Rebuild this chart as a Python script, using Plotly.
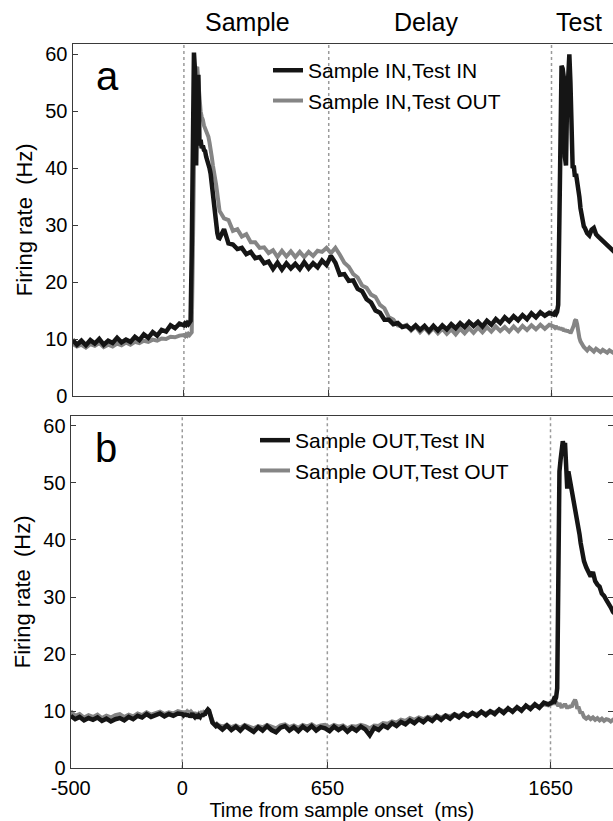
import plotly.graph_objects as go

# ---------------- data ----------------
# time grid (ms from sample onset): coarse in flat stretches, fine around the responses
TIME = (list(range(-500, 0, 20)) + list(range(0, 160, 5)) + list(range(160, 1660, 20))
        + list(range(1660, 1800, 5)) + list(range(1800, 1950, 10)))

# Panel a
A_IN_IN = [
    # -500 .. -20
    9.9, 9.0, 9.7, 8.9, 9.8, 9.2, 10.0, 9.0, 9.7, 9.3, 10.2, 9.4, 9.9, 9.5, 10.4, 9.8, 10.8, 10.2, 11.2, 10.6,
    11.6, 11.3, 12.4, 11.9, 12.7,
    # 0 .. 155
    12.4, 12.7, 12.5, 12.8, 12.6, 12.9, 13.2, 25.0, 52.0, 60.3, 57.0, 40.5, 55.0, 56.4, 44.0, 45.0,
    43.5, 44.0, 43.2, 43.0, 42.0, 41.5, 40.5, 40.0, 39.0, 37.0, 35.5, 33.0, 31.0, 29.5, 28.6, 27.8,
    # 160 .. 1640
    27.7, 29.3, 26.8, 26.6, 25.8, 26.0, 24.9, 25.3, 24.2, 24.4, 23.3, 23.6, 22.3, 23.4, 22.2, 23.3,
    22.4, 23.2, 22.3, 23.5, 22.4, 23.3, 22.6, 23.8, 23.0, 24.6, 23.4, 21.3, 21.4, 20.2, 20.3, 18.8,
    18.4, 17.0, 16.4, 15.0, 14.6, 13.4, 13.4, 12.6, 12.8, 12.1, 12.3, 11.7, 12.4, 11.6, 12.3, 11.4,
    12.3, 11.5, 12.4, 11.7, 12.6, 11.9, 12.8, 12.1, 13.0, 12.3, 13.0, 12.2, 13.2, 12.5, 13.5, 12.8,
    13.8, 13.1, 14.0, 13.3, 14.2, 13.5, 14.5, 13.8, 14.7, 14.1, 14.6,
    # 1660 .. 1795
    14.3, 14.6, 14.4, 14.8, 16.0, 35.0, 55.0, 58.0, 57.5, 56.0, 42.0, 40.5, 52.0, 59.8, 60.0, 55.0,
    41.5, 40.0, 40.5, 38.5, 39.0, 38.0, 36.5, 35.0, 33.0, 31.5, 30.5, 29.8,
    # 1800 .. 1940
    29.5, 28.6, 28.2, 29.2, 29.5, 28.4, 28.0, 27.6, 27.2, 27.0, 26.6, 26.0, 25.6, 25.2, 25.0,
]
A_IN_OUT = [
    9.2, 8.7, 9.0, 8.5, 9.1, 8.8, 9.3, 8.6, 9.0, 8.7, 9.2, 8.9, 9.4, 9.0, 9.5, 9.3, 9.7, 9.5, 9.9, 9.7,
    10.1, 10.0, 10.4, 10.3, 10.6,
    10.7, 10.5, 10.8, 10.6, 10.9, 10.7, 11.0, 11.2, 25.0, 48.0, 54.0, 57.5, 57.8, 55.0, 51.0, 50.0,
    49.0, 48.5, 47.5, 47.0, 46.5, 46.0, 45.5, 44.5, 43.5, 42.0, 40.5, 39.5, 38.5, 37.0, 35.5, 34.0,
    32.5, 31.2, 30.9, 29.0, 29.3, 28.0, 28.4, 27.0, 27.0, 26.0, 26.1, 25.1, 25.6, 24.4, 25.5, 24.5,
    25.4, 24.4, 25.3, 24.4, 25.3, 24.6, 25.5, 25.3, 26.0, 25.1, 26.0, 24.8, 23.4, 22.7, 21.4, 20.8,
    19.4, 19.0, 17.8, 17.4, 16.0, 15.4, 13.8, 13.4, 12.4, 12.2, 12.5, 11.5, 12.2, 11.2, 12.0, 11.1,
    11.9, 11.0, 11.8, 10.9, 11.7, 10.8, 11.8, 11.0, 11.9, 11.1, 12.0, 11.2, 12.1, 11.3, 12.2, 11.4,
    12.1, 11.3, 12.2, 11.4, 12.3, 11.6, 12.4, 11.7, 12.5, 11.8, 12.5,
    12.2, 12.0, 12.3, 11.8, 12.1, 11.7, 12.0, 11.6, 11.9, 11.4, 11.7, 11.3, 11.6, 11.2, 11.5, 11.0,
    11.4, 11.8, 12.4, 13.2, 13.4, 12.6, 11.0, 10.2, 9.6, 9.2, 8.8, 8.6,
    8.4, 8.0, 8.5, 8.2, 7.8, 8.3, 8.0, 7.7, 8.1, 7.9, 7.6, 8.0, 7.8, 7.5, 7.7,
]

# Panel b
B_OUT_IN = [
    9.2, 8.6, 9.0, 8.4, 8.8, 8.5, 8.9, 8.3, 8.7, 8.2, 8.6, 8.8, 8.4, 9.0, 8.6, 9.2, 8.9, 9.5, 9.0, 9.3,
    9.6, 9.1, 9.5, 9.2, 9.6,
    9.5, 9.3, 9.6, 9.2, 9.5, 9.1, 9.4, 9.0, 9.3, 9.6, 9.2, 9.0, 9.4, 9.1, 8.8, 9.2,
    9.0, 9.4, 9.1, 9.6, 9.3, 9.8, 10.0, 10.3, 10.1, 9.2, 8.5, 8.0, 7.8, 7.6, 7.4, 7.6,
    7.4, 6.8, 7.5, 6.7, 7.3, 6.6, 7.4, 6.9, 6.4, 7.2, 6.6, 7.4, 6.7, 6.3, 7.1, 7.4,
    6.6, 7.2, 6.5, 7.3, 6.7, 7.4, 6.6, 7.2, 7.0, 6.5, 7.3, 6.7, 7.2, 6.4, 7.1, 6.6,
    7.3, 6.8, 5.8, 7.1, 6.7, 7.5, 7.1, 7.9, 7.4, 8.1, 7.7, 8.4, 7.9, 8.6, 8.1, 8.8,
    8.3, 9.1, 8.5, 9.2, 8.7, 9.4, 8.9, 9.6, 9.1, 9.7, 9.2, 9.9, 9.3, 10.0, 9.5, 10.3,
    9.7, 10.5, 9.9, 10.7, 10.1, 11.0, 10.4, 11.2, 10.6, 11.5, 11.2,
    11.6, 12.1, 11.9, 12.4, 14.0, 35.0, 52.0, 54.0, 56.5, 57.3, 56.5, 57.0, 53.0, 49.0, 52.0, 51.0,
    49.0, 48.0, 47.0, 46.5, 45.5, 45.0, 44.0, 42.5, 41.0, 39.5, 38.5, 37.0,
    36.3, 35.2, 34.5, 33.6, 34.4, 32.8, 32.2, 31.8, 30.6, 30.2, 29.5, 29.0, 28.2, 27.4, 27.0,
]
B_OUT_OUT = [
    10.0, 9.2, 9.5, 8.9, 9.3, 9.0, 9.4, 8.8, 9.2, 8.9, 9.3, 9.5, 9.0, 9.4, 9.1, 9.6, 9.3, 9.8, 9.4, 9.7,
    9.9, 9.5, 9.8, 9.6, 10.0,
    9.8, 9.6, 10.0, 9.7, 9.9, 9.5, 9.8, 9.6, 9.9, 9.7, 9.5, 9.8, 9.4, 9.7, 9.3, 9.6,
    9.4, 9.7, 9.5, 9.8, 9.6, 9.9, 10.1, 10.2, 9.9, 9.3, 8.6, 8.1, 7.9, 7.7, 7.6, 7.8,
    7.6, 7.3, 7.6, 7.2, 7.5, 7.1, 7.6, 7.3, 7.0, 7.4, 7.2, 7.6, 7.3, 7.0, 7.5, 7.7,
    7.2, 7.5, 7.1, 7.6, 7.3, 7.7, 7.2, 7.5, 7.6, 7.2, 7.6, 7.3, 7.5, 7.0, 7.4, 7.3,
    7.6, 7.4, 7.0, 7.5, 7.4, 7.9, 7.8, 8.2, 8.0, 8.5, 8.3, 8.8, 8.5, 8.9, 8.6, 9.0,
    8.8, 9.2, 8.9, 9.3, 9.1, 9.5, 9.2, 9.6, 9.3, 9.7, 9.5, 9.9, 9.6, 10.0, 9.8, 10.3,
    10.0, 10.4, 10.1, 10.6, 10.3, 10.8, 10.6, 11.0, 10.8, 11.2, 11.0,
    11.4, 11.7, 11.2, 11.6, 11.3, 10.9, 11.4, 11.0, 10.6, 11.2, 10.8, 11.3, 10.9, 10.5, 10.9, 10.6,
    11.0, 10.7, 11.3, 11.8, 12.0, 11.5, 10.4, 10.8, 10.0, 9.6, 9.9, 9.3,
    9.0, 8.7, 9.0, 8.6, 8.9, 8.5, 8.8, 8.4, 8.7, 8.3, 8.6, 8.5, 8.2, 8.5, 8.4,
]

for s in (A_IN_IN, A_IN_OUT, B_OUT_IN, B_OUT_OUT):
    assert len(s) == len(TIME), (len(s), len(TIME))

NAMES_A = ["Sample IN,Test IN", "Sample IN,Test OUT"]
NAMES_B = ["Sample OUT,Test IN", "Sample OUT,Test OUT"]
EVENT_TIMES = [0, 650, 1650]
X_TICKS = [-500, 0, 650, 1650]
X_TICK_LABELS = ["-500", "0", "650", "1650"]
Y_TICKS = [0, 10, 20, 30, 40, 50, 60]
EPOCH_LABELS = ["Sample", "Delay", "Test"]
EPOCH_LABEL_X = [287, 1086, 1773]

# ---------------- style ----------------
FONT = "Liberation Sans, Arial, Helvetica, sans-serif"
BLACK = "#151515"
GREY = "#858585"
AXIS = "#3a3a3a"

fig = go.Figure()

# panel a (grey first so black is drawn on top)
fig.add_trace(go.Scatter(x=TIME, y=A_IN_OUT, name=NAMES_A[1], mode="lines",
                         line=dict(color=GREY, width=4), xaxis="x", yaxis="y",
                         legend="legend", legendrank=2))
fig.add_trace(go.Scatter(x=TIME, y=A_IN_IN, name=NAMES_A[0], mode="lines",
                         line=dict(color=BLACK, width=4.5), xaxis="x", yaxis="y",
                         legend="legend", legendrank=1))
# panel b
fig.add_trace(go.Scatter(x=TIME, y=B_OUT_OUT, name=NAMES_B[1], mode="lines",
                         line=dict(color=GREY, width=4), xaxis="x2", yaxis="y2",
                         legend="legend2", legendrank=2))
fig.add_trace(go.Scatter(x=TIME, y=B_OUT_IN, name=NAMES_B[0], mode="lines",
                         line=dict(color=BLACK, width=4.5), xaxis="x2", yaxis="y2",
                         legend="legend2", legendrank=1))
# carrier for right-hand tick marks of panel b
fig.add_trace(go.Scatter(x=[None], y=[None], xaxis="x2", yaxis="y3", showlegend=False,
                         hoverinfo="skip"))

for t in EVENT_TIMES:
    fig.add_shape(type="line", xref="x", yref="y domain", x0=t, x1=t, y0=0, y1=1,
                  line=dict(color="#9a9a9a", width=1.5, dash="dot"), layer="below")
    fig.add_shape(type="line", xref="x2", yref="y2 domain", x0=t, x1=t, y0=0, y1=1,
                  line=dict(color="#9a9a9a", width=1.5, dash="dot"), layer="below")

for lab, xv in zip(EPOCH_LABELS, EPOCH_LABEL_X):
    fig.add_annotation(text=lab, x=xv, xref="x", y=0.973, yref="paper", showarrow=False,
                       xanchor="center", yanchor="middle",
                       font=dict(family=FONT, size=25, color="black"))

fig.add_annotation(text="a", x=0.1746, y=0.9074, xref="paper", yref="paper", showarrow=False,
                   xanchor="center", yanchor="middle", font=dict(family=FONT, size=40, color="black"))
fig.add_annotation(text="b", x=0.173, y=0.4543, xref="paper", yref="paper", showarrow=False,
                   xanchor="center", yanchor="middle", font=dict(family=FONT, size=40, color="black"))

tick_font = dict(family=FONT, size=20, color="black")
common_x = dict(tickvals=X_TICKS, ticktext=X_TICK_LABELS, ticks="inside", ticklen=6,
                tickcolor=AXIS, showline=True, linecolor=AXIS, linewidth=1.2, mirror=True,
                showgrid=False, zeroline=False, automargin=False, tickfont=tick_font)
common_y = dict(tickvals=Y_TICKS, ticks="inside", ticklen=5, tickcolor=AXIS, showline=True,
                linecolor=AXIS, linewidth=1.2, mirror=False, showgrid=False, zeroline=False,
                automargin=False, tickfont=tick_font,
                title=dict(text="Firing rate  (Hz)", font=dict(family=FONT, size=22, color="black"),
                           standoff=6))

fig.update_layout(
    width=613, height=821,
    margin=dict(l=0, r=0, t=0, b=0),
    paper_bgcolor="white", plot_bgcolor="white",
    font=dict(family=FONT, color="black"),
    xaxis=dict(domain=[0.1183, 1.0], range=[-500, 1926], anchor="y", showticklabels=False, **common_x),
    yaxis=dict(domain=[0.5177, 0.947], range=[0, 61.9], anchor="x", **common_y),
    xaxis2=dict(domain=[0.1153, 1.0], range=[-500, 1930], anchor="y2", ticklabelstandoff=2,
                title=dict(text="Time from sample onset  (ms)",
                           font=dict(family=FONT, size=20, color="black"), standoff=7),
                **common_x),
    yaxis2=dict(domain=[0.0642, 0.4939], range=[0, 61.8], anchor="x2", **common_y),
    yaxis3=dict(overlaying="y2", side="right", anchor="x2", range=[0, 61.8], tickvals=Y_TICKS,
                ticks="inside", ticklen=5, tickcolor=AXIS, showticklabels=False, showline=False,
                showgrid=False, zeroline=False, automargin=False),
    legend=dict(x=0.4372, y=0.939, xanchor="left", yanchor="top", bgcolor="rgba(0,0,0,0)",
                borderwidth=0, font=dict(family=FONT, size=21, color="black"), tracegroupgap=0),
    legend2=dict(x=0.416, y=0.4884, xanchor="left", yanchor="top", bgcolor="rgba(0,0,0,0)",
                 borderwidth=0, font=dict(family=FONT, size=21, color="black"), tracegroupgap=0),
    showlegend=True,
)

fig.write_html("out.html", config={"displayModeBar": False},
               post_script="document.body.style.margin='0';document.body.style.overflow='hidden';")
